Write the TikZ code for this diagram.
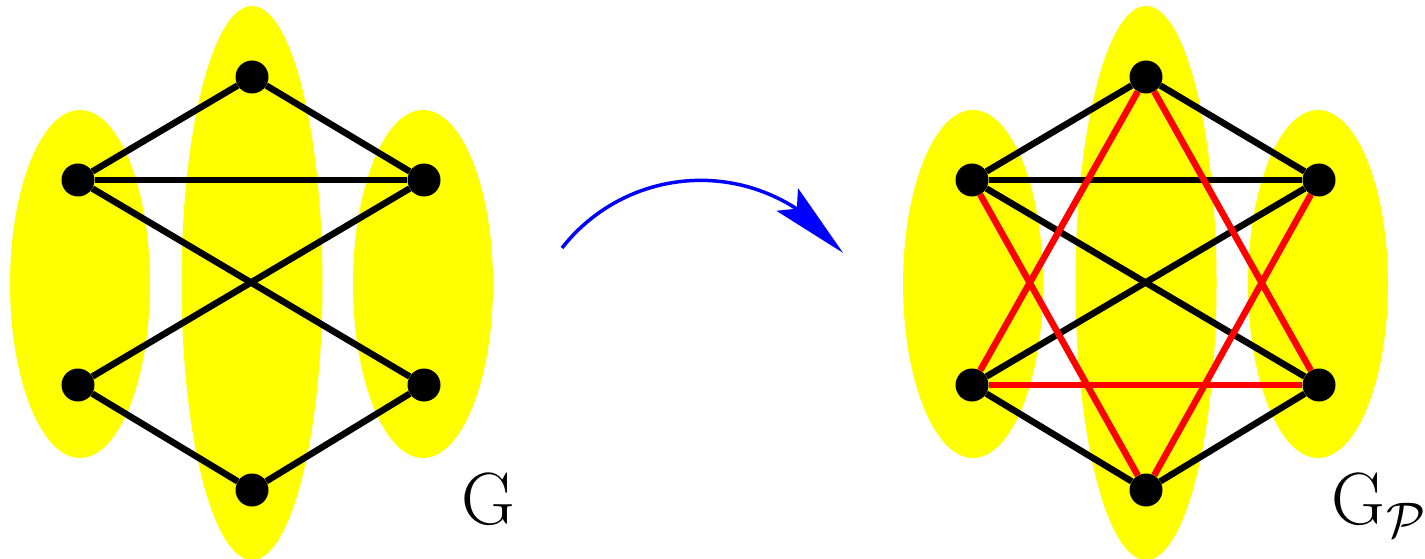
\documentclass[tikz,border=0pt]{standalone}
\usetikzlibrary{arrows.meta,bending}
\DeclareFontShape{OMS}{cmsy}{m}{n}{<->cmsy10}{}
\definecolor{yel}{RGB}{255,255,0}
\newcommand{\calfont}{\fontsize{50}{50}\usefont{OMS}{cmsy}{m}{n}}
\begin{document}
\begin{tikzpicture}[x=1pt,y=1pt,
  dot/.style={circle,fill=black,minimum size=33pt,inner sep=0pt},
  edge/.style={line width=6.5pt,black},
  redge/.style={line width=6.5pt,red},
  blob/.style={fill=yel},
  lbl/.style={anchor=base west,inner sep=0pt,font=\fontsize{74}{80}\selectfont}]
\useasboundingbox (0,0) rectangle (1425,-559);
% yellow parts
\fill[blob] (80,-284) ellipse [x radius=70, y radius=174];
\fill[blob] (252,-283) ellipse [x radius=70.5, y radius=277];
\fill[blob] (423,-284) ellipse [x radius=70, y radius=174];
\fill[blob] (973,-284) ellipse [x radius=70, y radius=174];
\fill[blob] (1146,-283) ellipse [x radius=70.5, y radius=277];
\fill[blob] (1318,-284) ellipse [x radius=70, y radius=174];
% left graph
\node[dot] (t) at (252,-77) {};
\node[dot] (a) at (78,-180) {};
\node[dot] (b) at (424,-180) {};
\node[dot] (c) at (78,-385) {};
\node[dot] (d) at (424,-385) {};
\node[dot] (e) at (252,-490) {};
\draw[edge] (t) -- (a);
\draw[edge] (t) -- (b);
\draw[edge] (a) -- (b);
\draw[edge] (a) -- (d);
\draw[edge] (b) -- (c);
\draw[edge] (c) -- (e);
\draw[edge] (d) -- (e);
% right graph
\node[dot] (t2) at (1146,-77) {};
\node[dot] (a2) at (972,-180) {};
\node[dot] (b2) at (1319,-180) {};
\node[dot] (c2) at (972,-385) {};
\node[dot] (d2) at (1319,-385) {};
\node[dot] (e2) at (1146,-490) {};
\draw[edge] (t2) -- (a2);
\draw[edge] (t2) -- (b2);
\draw[edge] (a2) -- (b2);
\draw[edge] (a2) -- (d2);
\draw[edge] (b2) -- (c2);
\draw[edge] (c2) -- (e2);
\draw[edge] (d2) -- (e2);
\draw[redge] (t2) -- (c2);
\draw[redge] (t2) -- (d2);
\draw[redge] (e2) -- (a2);
\draw[redge] (e2) -- (b2);
\draw[redge] (c2) -- (d2);
% arrow
\coordinate (s) at (562,-248);
\draw[blue,line width=3.5pt,-{Stealth[length=77pt,width=31pt,inset=13pt]}]
  (s) arc[start angle=142,end angle=36,radius=176];
% labels
\node[lbl] (g1) at (461,-524) {G};
\node[lbl] (g2) at (1331,-524) {G};
\node[anchor=base west,inner sep=0pt,font=\calfont] (p2) at (1386,-537) {P};
\end{tikzpicture}
\end{document}
